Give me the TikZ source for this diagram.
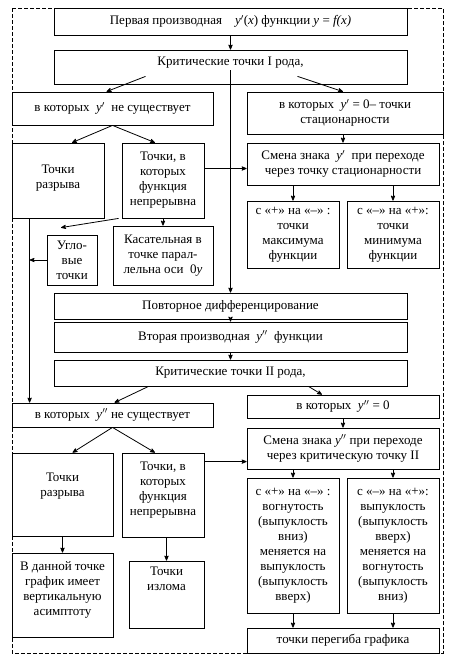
\documentclass[tikz,border=0pt]{standalone}
\usepackage{fontspec}
\setmainfont{Liberation Serif}
\usepackage{tikz}
\usetikzlibrary{
  arrows,
  chains,
  calc,
  positioning,
  scopes
}

\newcommand{\yp}{\textit{y}$'$}
\newcommand{\ypp}{\textit{y}$''$}

\begin{document}
\begin{tikzpicture}[
      x=1pt, y=-1pt,
      block/.style={
         rectangle,
         draw=black,
         line width=0.8pt,
         inner sep=1pt,
         align=center,
         font=\fontsize{13}{15}\selectfont
      },
      dims/.style 2 args={minimum width=#1, minimum height=#2},
      lift/.style={text depth=#1},
      frame/.style={dash pattern=on 4pt off 2pt, line width=0.8pt},
      >=stealth', line width=0.8pt,
      tip/.style={->, shorten >=0.007pt}, every join/.style={rounded corners}
    ]
    \useasboundingbox (0,0) rectangle (455,664);
    \draw[frame] (12,8) rectangle (443,653);
    % first derivative
    \node (first) [block, dims={353pt}{27pt}] at (230.5,21.5) {Первая производная\quad \yp(\textit{x}) функции \textit{y} = \textit{f(x)}};
    \node (crit1) [block, dims={353pt}{34pt}, lift=12pt] at (230.5,67) {Критические точки I рода,};
    \node (ne1) [block, dims={201pt}{33pt}] at (112.5,108.5) {в которых\ \ \yp\ \ не существует};
    \node (stat) [block, dims={196pt}{42pt}] at (345,113) {в которых\ \ \yp\ = 0– точки\\стационарности};
    \node (sign1) [block, dims={192pt}{42pt}] at (343,164) {Смена знака\ \ \yp\ \ при переходе\\через точку стационарности};
    \node (max) [block, dims={92pt}{67pt}] at (293,234.5) {с «+» на «–» :\\точки\\максимума\\функции};
    \node (min) [block, dims={92pt}{67pt}] at (393,234.5) {с «–» на «+»:\\точки\\минимума\\функции};
    \node (razr1) [block, dims={92pt}{75pt}, lift=8pt] at (58,180.5) {Точки\\разрыва};
    \node (nepr1) [block, dims={82pt}{75pt}] at (163,180.5) {Точки, в\\которых\\функция\\непрерывна};
    \node (ugl) [block, dims={50pt}{50pt}] at (72,260) {Угло-\\вые\\точки};
    \node (kas) [block, dims={100pt}{59pt}] at (163,255.5) {Касательная в\\точке парал-\\лельна оси\ \ 0\textit{y}};
    % second derivative
    \node (povt) [block, dims={353pt}{26pt}] at (230.5,306) {Повторное дифференцирование};
    \node (vtor) [block, dims={353pt}{30pt}] at (230.5,337) {Вторая производная\ \ \ypp\ \ функции};
    \node (crit2) [block, dims={353pt}{26pt}] at (230.5,373) {Критические точки II рода,};
    \node (ne2) [block, dims={201pt}{24pt}] at (112.5,415) {в которых\ \ \ypp\ не существует};
    \node (zero2) [block, dims={192pt}{23pt}] at (343,406.5) {в которых\ \ \ypp\ = 0};
    \node (sign2) [block, dims={192pt}{41pt}] at (343,448.5) {Смена знака \ypp\ при переходе\\через критическую точку II};
    \node (razr2) [block, dims={101pt}{83pt}, lift=19pt] at (62.5,494.5) {Точки\\разрыва};
    \node (nepr2) [block, dims={82pt}{84pt}, lift=13pt] at (163,495) {Точки, в\\которых\\функция\\непрерывна};
    \node (asym) [block, dims={101pt}{84pt}, lift=13pt] at (62.5,595) {В данной точке\\график имеет\\вертикальную\\асимптоту};
    \node (izlom) [block, dims={75pt}{67pt}, lift=31pt] at (166.5,594.5) {Точки\\излома};
    \node (vogn) [block, dims={92pt}{135pt}] at (293,545.5) {с «+» на «–» :\\вогнутость\\(выпуклость\\вниз)\\меняется на\\выпуклость\\(выпуклость\\вверх)};
    \node (vypu) [block, dims={92pt}{135pt}] at (393,545.5) {с «–» на «+»:\\выпуклость\\(выпуклость\\вверх)\\меняется на\\вогнутость\\(выпуклость\\вниз)};
    \node (pereg) [block, dims={192pt}{25pt}] at (343,640.5) {точки перегиба графика};

  { [start chain]
       \chainin (first);
       \chainin (crit1)    [join=by tip];
  }
  { [start chain]
       \chainin (povt);
       \chainin (vtor)    [join=by tip];
       \chainin (crit2)    [join=by tip];
  }
  { [start chain]
       \chainin (nepr1);
       \chainin (kas)    [join=by tip];
  }
  { [start chain]
       \chainin (zero2);
       \chainin (sign2)    [join=by tip];
  }
  { [start chain]
       \chainin (razr2);
       \chainin (asym)    [join=by tip];
  }
    \draw[tip] ($(crit1.south)+(-85,-8)$) -- ($(ne1.north)+(-6,0)$);
    \draw[tip] ($(crit1.south)+(67,-8)$) -- ($(stat.north)+(-2,0)$);
    \draw[tip] ($(crit1.south)+(0,-14)$) -- (povt.north);
    \draw[tip] (stat.south -| sign1.north) -- (sign1.north);
    \draw[tip] (max.north |- sign1.south) -- (max.north);
    \draw[tip] (min.north |- sign1.south) -- (min.north);
    \draw[tip] (ne1.south) -- ($(razr1.north)+(14,0)$);
    \draw[tip] (ne1.south) -- ($(nepr1.north)+(-8,0)$);
    \draw[tip] ($(nepr1.east)+(0,-12)$) coordinate (n1) -- (n1 -| sign1.west);
    \draw[tip] ($(razr1.south west)+(18,0)$) coordinate (lx) -- (lx |- ne2.north);
    \draw[tip] ($(nepr1.south west)+(-3,0)$) -- ($(ugl.north)+(-11,-7)$);
    \draw[tip] (ugl.west) -- (ugl.west -| lx);
    \draw[tip] ($(crit2.south)+(-82,0)$) -- ($(ne2.north)+(2,0)$);
    \draw[tip] ($(crit2.south)+(78,0)$) -- ($(zero2.north)+(-21,0)$);
    \draw[tip] (ne2.south) -- ($(razr2.north)+(10,0)$);
    \draw[tip] (ne2.south) -- ($(nepr2.north)+(-8,0)$);
    \draw[tip] ($(nepr2.north east)+(0,9)$) coordinate (n2) -- (n2 -| sign2.west);
    \draw[tip] (izlom.north |- nepr2.south) -- (izlom.north);
    \draw[tip] (vogn.north |- sign2.south) -- (vogn.north);
    \draw[tip] (vypu.north |- sign2.south) -- (vypu.north);
    \draw[tip] (vogn.south) -- (vogn.south |- pereg.north);
    \draw[tip] (vypu.south) -- (vypu.south |- pereg.north);
\end{tikzpicture}
\end{document}
